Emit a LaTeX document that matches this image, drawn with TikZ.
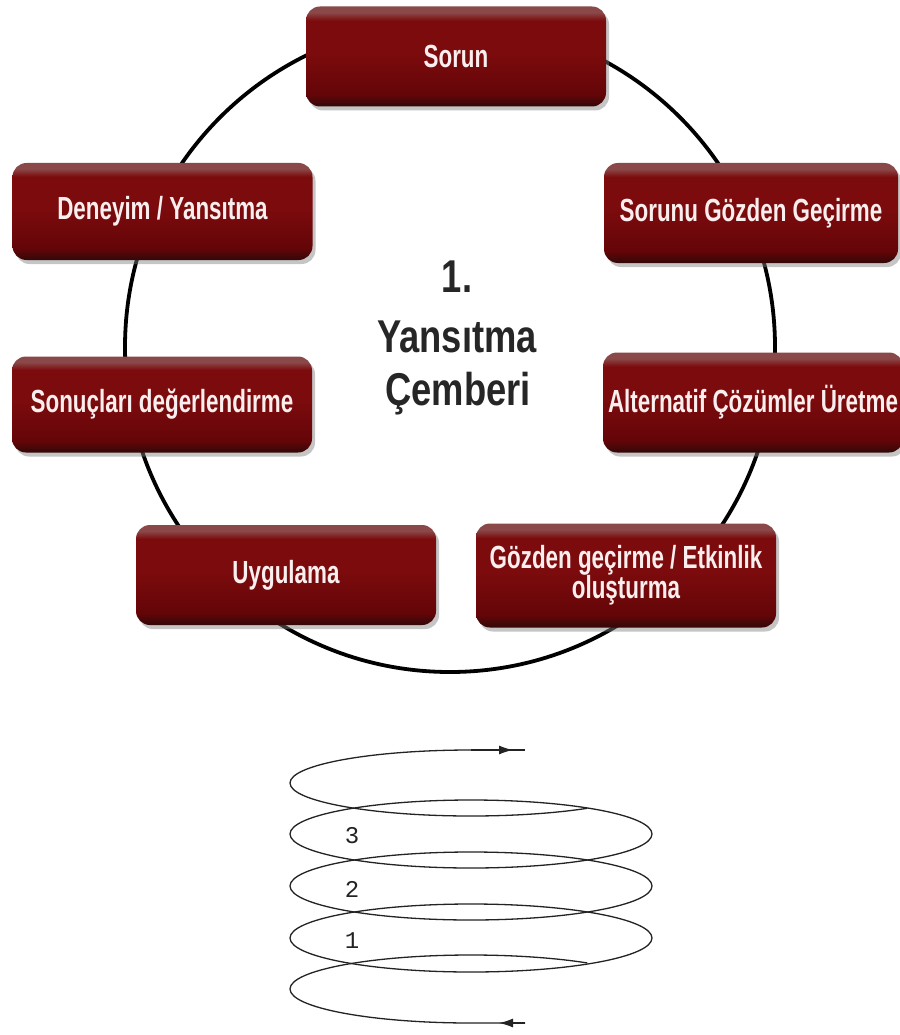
\documentclass[tikz,border=0pt]{standalone}
\usepackage{fontspec}
\setmainfont{Liberation Sans}
\newfontfamily\boxfont[FakeStretch=0.70]{Liberation Sans}
\newfontfamily\centerfont[FakeStretch=0.79]{Liberation Sans}
\newfontfamily\digitfont{Liberation Mono}
\usetikzlibrary{shadows,arrows.meta,shapes.geometric}
\definecolor{bxtop}{RGB}{138,72,72}
\definecolor{bxmid}{RGB}{124,11,13}
\definecolor{bxdark}{RGB}{100,5,8}
\definecolor{bxbot}{RGB}{50,8,8}
\definecolor{boxtext}{RGB}{250,238,238}
\definecolor{ctext}{RGB}{38,38,38}
\definecolor{spir}{RGB}{35,35,35}
\pgfdeclareverticalshading{boxshade}{100bp}{color(0bp)=(bxbot); color(25bp)=(bxbot); color(31bp)=(bxdark); color(52bp)=(bxmid); color(68bp)=(bxmid); color(72bp)=(bxtop); color(75bp)=(bxtop); color(100bp)=(bxtop)}
\tikzset{
  stepbox/.style={shade, shading=boxshade, rounded corners=14pt,
    minimum width=300pt, minimum height=100pt, inner sep=0pt,
    text=boxtext, align=center,
    font=\boxfont\bfseries\fontsize{32}{31}\selectfont,
    drop shadow={shadow xshift=3pt, shadow yshift=-4pt, opacity=0.45}},
  ringline/.style={line width=3.8pt, draw=black},
  centertext/.style={anchor=base, text=ctext, inner sep=0pt,
    font=\centerfont\bfseries\fontsize{46}{56}\selectfont},
  coil/.style={draw=spir, line width=1.3pt, ellipse, minimum width=362pt,
    minimum height=68pt, inner sep=0pt},
  coilline/.style={draw=spir, line width=1.3pt},
  digit/.style={text=spir, inner sep=0pt, font=\digitfont\fontsize{24}{24}\selectfont},
}
\begin{document}
\begin{tikzpicture}[x=1pt,y=-1pt]
\fill[white] (0,0) rectangle (899,1035);
\useasboundingbox (0,0) rectangle (899,1035);

% ring
\coordinate (ringc) at (450,347);
\draw[ringline] (ringc) circle[radius=325pt];

% boxes
\node[stepbox] (sorun) at (456,56.5) {Sorun};
\node[stepbox, minimum height=97pt] (deneyim) at (162.5,211.5) {Deneyim / Yansıtma};
\node[stepbox, minimum width=294pt] (gozden) at (751,213) {Sorunu Gözden Geçirme};
\node[stepbox, minimum height=96pt] (sonuc) at (162,404.5) {Sonuçları değerlendirme};
\node[stepbox] (alter) at (753,402.5) {Alternatif Çözümler Üretme};
\node[stepbox] (uygulama) at (286,575) {Uygulama};
\node[stepbox, minimum height=104pt] (etkinlik) at (626,575.5) {Gözden geçirme / Etkinlik\\[-1pt]oluşturma};

% center title
\node[centertext] (t1) at (457,292) {1.};
\node[centertext] (t2) at (457,352) {Yansıtma};
\node[centertext] (t3) at (458,405) {Çemberi};

% spiral
\node[coil] (e3) at (471,834) {};
\node[coil] (e2) at (471,886) {};
\node[coil] (e1) at (471,938) {};
\node[digit] (d3) at (352,836) {3};
\node[digit] (d2) at (352,889) {2};
\node[digit] (d1) at (352,941) {1};

% top open loop, ending with arrow to the right
\coordinate (topend) at (525,750);
\coordinate (toptip) at (513,750);
\coordinate (toptop) at (471,750);
\draw[coilline] (toptop) arc[start angle=90, end angle=310, x radius=181pt, y radius=33pt];
\draw[coilline] (toptop) -- (topend);
\draw[coilline, -{Latex[length=14pt,width=9pt]}] (toptop) -- (toptip);

% bottom open loop, starting with arrow to the left
\coordinate (botstart) at (525,1023);
\coordinate (bottip) at (499,1023);
\coordinate (botmid) at (471,1023);
\draw[coilline] (botstart) -- (botmid)
  arc[start angle=270, end angle=50, x radius=181pt, y radius=34pt];
\draw[coilline, -{Latex[length=14pt,width=9pt]}] (botstart) -- (bottip);
\end{tikzpicture}
\end{document}
